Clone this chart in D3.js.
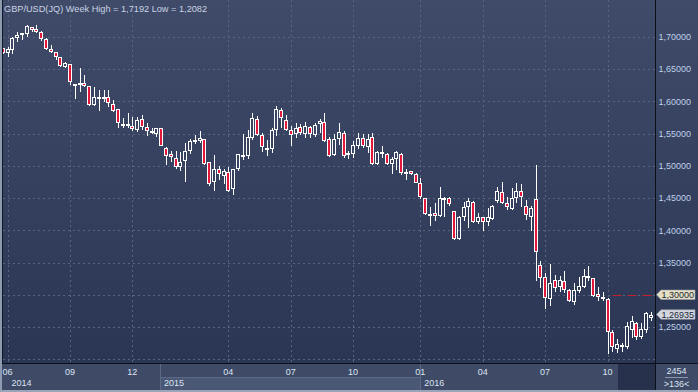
<!DOCTYPE html>
<html><head><meta charset="utf-8">
<script src="https://cdn.jsdelivr.net/npm/d3@7"></script>
<style>html,body{margin:0;padding:0;background:#3a4661;overflow:hidden}svg{display:block}</style>
</head><body>
<svg id="c" width="698" height="392"></svg>
<script>
// ---- data (weekly candles, GBP/USD) ----
const opens = [1.6824,1.6747,1.6805,1.6985,1.7031,1.7050,1.7150,1.7119,1.7082,1.6964,
1.6809,1.6762,1.6685,1.6530,1.6576,1.6270,1.6281,1.6281,1.6240,1.5945,
1.6070,1.6074,1.6074,1.5960,1.5878,1.5650,1.5645,1.5624,1.5557,1.5723,
1.5608,1.5546,1.5495,1.5583,1.5273,1.5180,1.5118,1.4987,1.5076,1.5231,
1.5380,1.5390,1.5412,1.5055,1.4745,1.4947,1.4848,1.4910,1.4636,1.4947,
1.5169,1.5153,1.5428,1.5727,1.5479,1.5282,1.5262,1.5557,1.5867,1.5712,
1.5557,1.5490,1.5608,1.5490,1.5599,1.5479,1.5645,1.5676,1.5417,1.5169,
1.5417,1.5515,1.5195,1.5180,1.5313,1.5428,1.5298,1.5443,1.5029,1.5211,
1.5184,1.5024,1.5102,1.5184,1.4895,1.4920,1.4874,1.4730,1.4497,1.4249,
1.4264,1.4222,1.4497,1.4497,1.4300,1.3861,1.4211,1.4367,1.4444,1.4124,
1.4202,1.4124,1.4171,1.4455,1.4595,1.4419,1.4331,1.4497,1.4610,1.4377,
1.4211,1.4481,1.3462,1.3271,1.2930,1.3229,1.3125,1.3214,1.3074,1.2893,
1.3063,1.3116,1.3291,1.3255,1.3012,1.2966,1.2930,1.2427,1.2154,1.2221,
1.2194,1.2458,1.2569,1.2340,1.2461,1.2635];
const highs = [1.6837,1.6849,1.6995,1.7082,1.7067,1.7192,1.7160,1.7186,1.7093,1.6979,
1.6876,1.6772,1.6688,1.6617,1.6580,1.6275,1.6514,1.6410,1.6245,1.6229,
1.6177,1.6177,1.6177,1.6022,1.5882,1.5738,1.5816,1.5754,1.5754,1.5790,
1.5661,1.5592,1.5592,1.5588,1.5298,1.5231,1.5231,1.5220,1.5350,1.5417,
1.5479,1.5541,1.5420,1.5058,1.5169,1.5003,1.4951,1.4987,1.4951,1.5182,
1.5490,1.5557,1.5816,1.5779,1.5505,1.5402,1.5592,1.5929,1.5894,1.5790,
1.5624,1.5661,1.5645,1.5676,1.5624,1.5661,1.5723,1.5825,1.5453,1.5490,
1.5661,1.5541,1.5231,1.5386,1.5505,1.5490,1.5490,1.5505,1.5225,1.5308,
1.5195,1.5143,1.5231,1.5195,1.4947,1.4925,1.4885,1.4807,1.4506,1.4357,
1.4419,1.4667,1.4513,1.4513,1.4305,1.4222,1.4444,1.4506,1.4460,1.4274,
1.4211,1.4342,1.4393,1.4677,1.4757,1.4525,1.4652,1.4730,1.4714,1.4471,
1.4377,1.5014,1.3524,1.3333,1.3478,1.3307,1.3291,1.3373,1.3085,1.3187,
1.3280,1.3395,1.3447,1.3265,1.3125,1.3048,1.2945,1.2453,1.2309,1.2256,
1.2582,1.2670,1.2582,1.2557,1.2737,1.2728];
const lows = [1.6736,1.6684,1.6736,1.6927,1.6953,1.7005,1.7082,1.7057,1.6942,1.6798,
1.6756,1.6643,1.6539,1.6514,1.6255,1.6038,1.6151,1.6229,1.5934,1.5929,
1.5856,1.5996,1.5918,1.5841,1.5583,1.5583,1.5583,1.5541,1.5531,1.5557,
1.5468,1.5490,1.5453,1.5305,1.5014,1.5065,1.4951,1.4920,1.4754,1.5180,
1.5335,1.5350,1.5014,1.4688,1.4610,1.4781,1.4719,1.4599,1.4548,1.4920,
1.5091,1.5107,1.5402,1.5464,1.5220,1.5158,1.5204,1.5468,1.5583,1.5546,
1.5313,1.5437,1.5479,1.5428,1.5428,1.5453,1.5505,1.5366,1.5143,1.5158,
1.5324,1.5127,1.5107,1.5127,1.5262,1.5282,1.5195,1.5014,1.5014,1.5127,
1.5014,1.4874,1.4936,1.4858,1.4781,1.4858,1.4730,1.4482,1.4238,1.4067,
1.4149,1.4212,1.4212,1.4377,1.3850,1.3850,1.4149,1.4031,1.4118,1.4098,
1.3994,1.4067,1.4160,1.4419,1.4401,1.4323,1.4315,1.4429,1.4367,1.4160,
1.3994,1.3218,1.3110,1.2779,1.2830,1.3048,1.3048,1.3032,1.2893,1.2841,
1.3023,1.3100,1.3218,1.2970,1.2908,1.2908,1.2082,1.2110,1.2092,1.2117,
1.2154,1.2337,1.2298,1.2309,1.2407,1.2598];
const closes = [1.6747,1.6809,1.6979,1.7031,1.7057,1.7171,1.7109,1.7082,1.6964,1.6809,
1.6762,1.6685,1.6555,1.6601,1.6306,1.6262,1.6288,1.6240,1.5945,1.6064,
1.6074,1.6072,1.5980,1.5856,1.5661,1.5648,1.5643,1.5568,1.5712,1.5608,
1.5546,1.5505,1.5583,1.5313,1.5153,1.5133,1.4978,1.5056,1.5231,1.5386,
1.5402,1.5437,1.5024,1.4714,1.4952,1.4869,1.4920,1.4610,1.4947,1.5180,
1.5133,1.5443,1.5738,1.5474,1.5288,1.5262,1.5557,1.5883,1.5738,1.5557,
1.5479,1.5592,1.5505,1.5619,1.5490,1.5634,1.5696,1.5386,1.5158,1.5412,
1.5521,1.5158,1.5200,1.5324,1.5428,1.5313,1.5417,1.5029,1.5220,1.5180,
1.5024,1.5102,1.5211,1.4885,1.4900,1.4874,1.4739,1.4513,1.4249,1.4252,
1.4227,1.4497,1.4500,1.4404,1.3861,1.4211,1.4367,1.4460,1.4134,1.4211,
1.4124,1.4202,1.4382,1.4610,1.4419,1.4357,1.4497,1.4615,1.4512,1.4238,
1.4342,1.3668,1.3255,1.2945,1.3178,1.3100,1.3229,1.3074,1.2908,1.3074,
1.3136,1.3291,1.3255,1.2985,1.2961,1.2970,1.2427,1.2190,1.2231,1.2194,
1.2515,1.2588,1.2345,1.2466,1.2725,1.26935];

const priceTicks = [1.25,1.30,1.35,1.40,1.45,1.50,1.55,1.60,1.65,1.70];
const gridPrices = [1.20,1.25,1.30,1.35,1.40,1.45,1.50,1.55,1.60,1.65,1.70];
const monthTickIdx = [1,14,27,47,60,73,87,100,113,126];
const monthLabels = ["06","09","12","04","07","10","01","04","07","10"];
const yearStartIdx = [1,32.75,87];
const yearLabels = ["2014","2015","2016"];
const symbol = "GBP/USD(JQ) Week";
const alertPrice = 1.30;
const lastPrice = 1.26935;
const counterTexts = ["2454", ">136<"];

// ---- layout ----
const W = 698, H = 392;
const PL = 3, PR = 655, PT = 0, PB = 363;
const fmt = v => d3.format(".5f")(v).replace(".", ",");
const fmt4 = v => d3.format(".4f")(v).replace(".", ",");
const FONT = "'Liberation Sans', Arial, sans-serif";

const svg = d3.select("#c");
const defs = svg.append("defs");
const grad = defs.append("linearGradient").attr("id","bg").attr("x1",0).attr("y1",0).attr("x2",0).attr("y2",1);
grad.append("stop").attr("offset","0%").attr("stop-color","#3f4b68");
grad.append("stop").attr("offset","100%").attr("stop-color","#2b3654");
defs.append("clipPath").attr("id","clip").append("rect")
  .attr("x",PL).attr("y",PT).attr("width",PR-PL).attr("height",PB-PT);

const x = d3.scaleLinear().domain([0, opens.length-1]).range([2.7, 650.7]);
const y = d3.scaleLinear().domain([1.25, 1.70]).range([327, 37]);

// background
svg.append("rect").attr("x",0).attr("y",0).attr("width",W).attr("height",PB).attr("fill","url(#bg)");
// bottom panel
svg.append("rect").attr("x",0).attr("y",PB).attr("width",W).attr("height",H-PB).attr("fill","#3e4a66");
// year highlight (2015)
const yrRowTop = 377, yrRowBot = 390;
svg.append("rect").attr("x",x(yearStartIdx[1])).attr("y",yrRowTop)
  .attr("width",x(yearStartIdx[2])-x(yearStartIdx[1])).attr("height",yrRowBot-yrRowTop).attr("fill","#4a5775");
svg.append("line").attr("x1",x(yearStartIdx[1])).attr("x2",x(yearStartIdx[2])).attr("y1",yrRowTop+0.5).attr("y2",yrRowTop+0.5)
  .attr("stroke","#5c6987");
[yearStartIdx[1], yearStartIdx[2]].forEach(i=>{
  const xx = Math.round(x(i))+0.5;
  svg.append("line").attr("x1",xx).attr("x2",xx).attr("y1",PB).attr("y2",yrRowBot).attr("stroke","#5c6987");
});
// dark box bottom right
svg.append("rect").attr("x",618).attr("y",364).attr("width",37).attr("height",26).attr("fill","#27314b");

// grid
const grid = svg.append("g").attr("clip-path","url(#clip)");
gridPrices.forEach(p=>{
  const yy = Math.round(y(p))+0.5;
  grid.append("line").attr("x1",PL).attr("x2",PR).attr("y1",yy).attr("y2",yy)
    .attr("stroke","#58657f").attr("stroke-dasharray","2,3");
});
monthTickIdx.forEach(i=>{
  const xx = Math.round(x(i))+0.5;
  grid.append("line").attr("x1",xx).attr("x2",xx).attr("y1",PT).attr("y2",PB)
    .attr("stroke","#58657f").attr("stroke-dasharray","2,3");
});

// alert line at 1.30
const ay = Math.round(y(alertPrice))+0.5;
svg.append("line").attr("x1",x(126)+5).attr("x2",PR).attr("y1",ay).attr("y2",ay)
  .attr("stroke","#c41f2e").attr("stroke-width",1.2).attr("stroke-dasharray","9,6");

// candles
const data = opens.map((o,i)=>({i,o,h:highs[i],l:lows[i],c:closes[i]}));
const cg = svg.append("g").attr("clip-path","url(#clip)");
data.forEach(d=>{
  const px = Math.round(x(d.i));
  const cx = px + 0.5;
  const up = d.c >= d.o;
  let top = Math.round(y(Math.max(d.o,d.c)));
  let bot = Math.round(y(Math.min(d.o,d.c)));
  if (bot - top < 2) bot = top + 2;
  const yh = Math.round(y(d.h)), yl = Math.round(y(d.l));
  if (yh < top) cg.append("line").attr("x1",cx).attr("x2",cx).attr("y1",yh).attr("y2",top).attr("stroke","#fff");
  if (yl > bot) cg.append("line").attr("x1",cx).attr("x2",cx).attr("y1",bot).attr("y2",yl).attr("stroke","#fff");
  cg.append("rect").attr("x",px-1.5).attr("y",top+0.5).attr("width",3).attr("height",bot-top-1)
    .attr("fill", up ? "none" : "#e3173a").attr("stroke","#fff").attr("stroke-width",1);
});

// frame lines
svg.append("rect").attr("x",0).attr("y",0).attr("width",2).attr("height",H).attr("fill","#8e9ab0");
svg.append("line").attr("x1",2.5).attr("x2",2.5).attr("y1",0).attr("y2",PB).attr("stroke","#111827");
svg.append("line").attr("x1",2).attr("x2",W).attr("y1",PB+0.5).attr("y2",PB+0.5).attr("stroke","#0b0f18");
svg.append("line").attr("x1",PR+0.5).attr("x2",PR+0.5).attr("y1",0).attr("y2",H-2).attr("stroke","#0b0f18");
svg.append("rect").attr("x",0).attr("y",H-2).attr("width",W).attr("height",2).attr("fill","#9aa4b8");

// right axis labels (the alert price is shown by its marker instead)
priceTicks.filter(p => Math.abs(p - alertPrice) > 1e-9).forEach(p=>{
  svg.append("text").attr("x",658.5).attr("y",y(p)).attr("dy","0.36em")
    .attr("font-family",FONT).attr("font-size","9px").attr("fill","#bfd0ea").text(fmt(p));
});

// price markers
function marker(p, fill){
  const yy = y(p);
  const g = svg.append("g");
  g.append("path").attr("d",`M656.5,${yy} L661,${yy-4.7} L695,${yy-4.7} L695,${yy+4.7} L661,${yy+4.7} Z`)
    .attr("fill",fill).attr("stroke","#9aa0aa").attr("stroke-width",0.6);
  g.append("text").attr("x",661.5).attr("y",yy).attr("dy","0.36em")
    .attr("font-family",FONT).attr("font-size","9px").attr("fill","#1c2638").text(fmt(p));
}
marker(alertPrice, "#e4e0c4");
marker(lastPrice, "#d3d7df");

// x axis labels
monthTickIdx.forEach((i,k)=>{
  svg.append("text").attr("x",x(i)).attr("y",375.3).attr("text-anchor","middle")
    .attr("font-family",FONT).attr("font-size","9px").attr("fill","#dbe4f2").text(monthLabels[k]);
});
yearStartIdx.forEach((i,k)=>{
  svg.append("text").attr("x",x(i)+4).attr("y",385.5)
    .attr("font-family",FONT).attr("font-size","9px").attr("fill","#dbe4f2").text(yearLabels[k]);
});

// counter panel
svg.append("text").attr("x",676.5).attr("y",374).attr("text-anchor","middle")
  .attr("font-family",FONT).attr("font-size","9px").attr("fill","#dbe4f2").text(counterTexts[0]);
svg.append("line").attr("x1",665).attr("x2",688).attr("y1",377.5).attr("y2",377.5).attr("stroke","#8a96ae");
svg.append("text").attr("x",676.5).attr("y",386.5).attr("text-anchor","middle")
  .attr("font-family",FONT).attr("font-size","9px").attr("fill","#dbe4f2").text(counterTexts[1]);

// title
svg.append("text").attr("x",4).attr("y",11.5)
  .attr("font-family",FONT).attr("font-size","9.2px").attr("fill","#c9d3e4")
  .text(`${symbol} High = ${fmt4(d3.max(highs))} Low = ${fmt4(d3.min(lows))}`);
</script>
</body></html>
